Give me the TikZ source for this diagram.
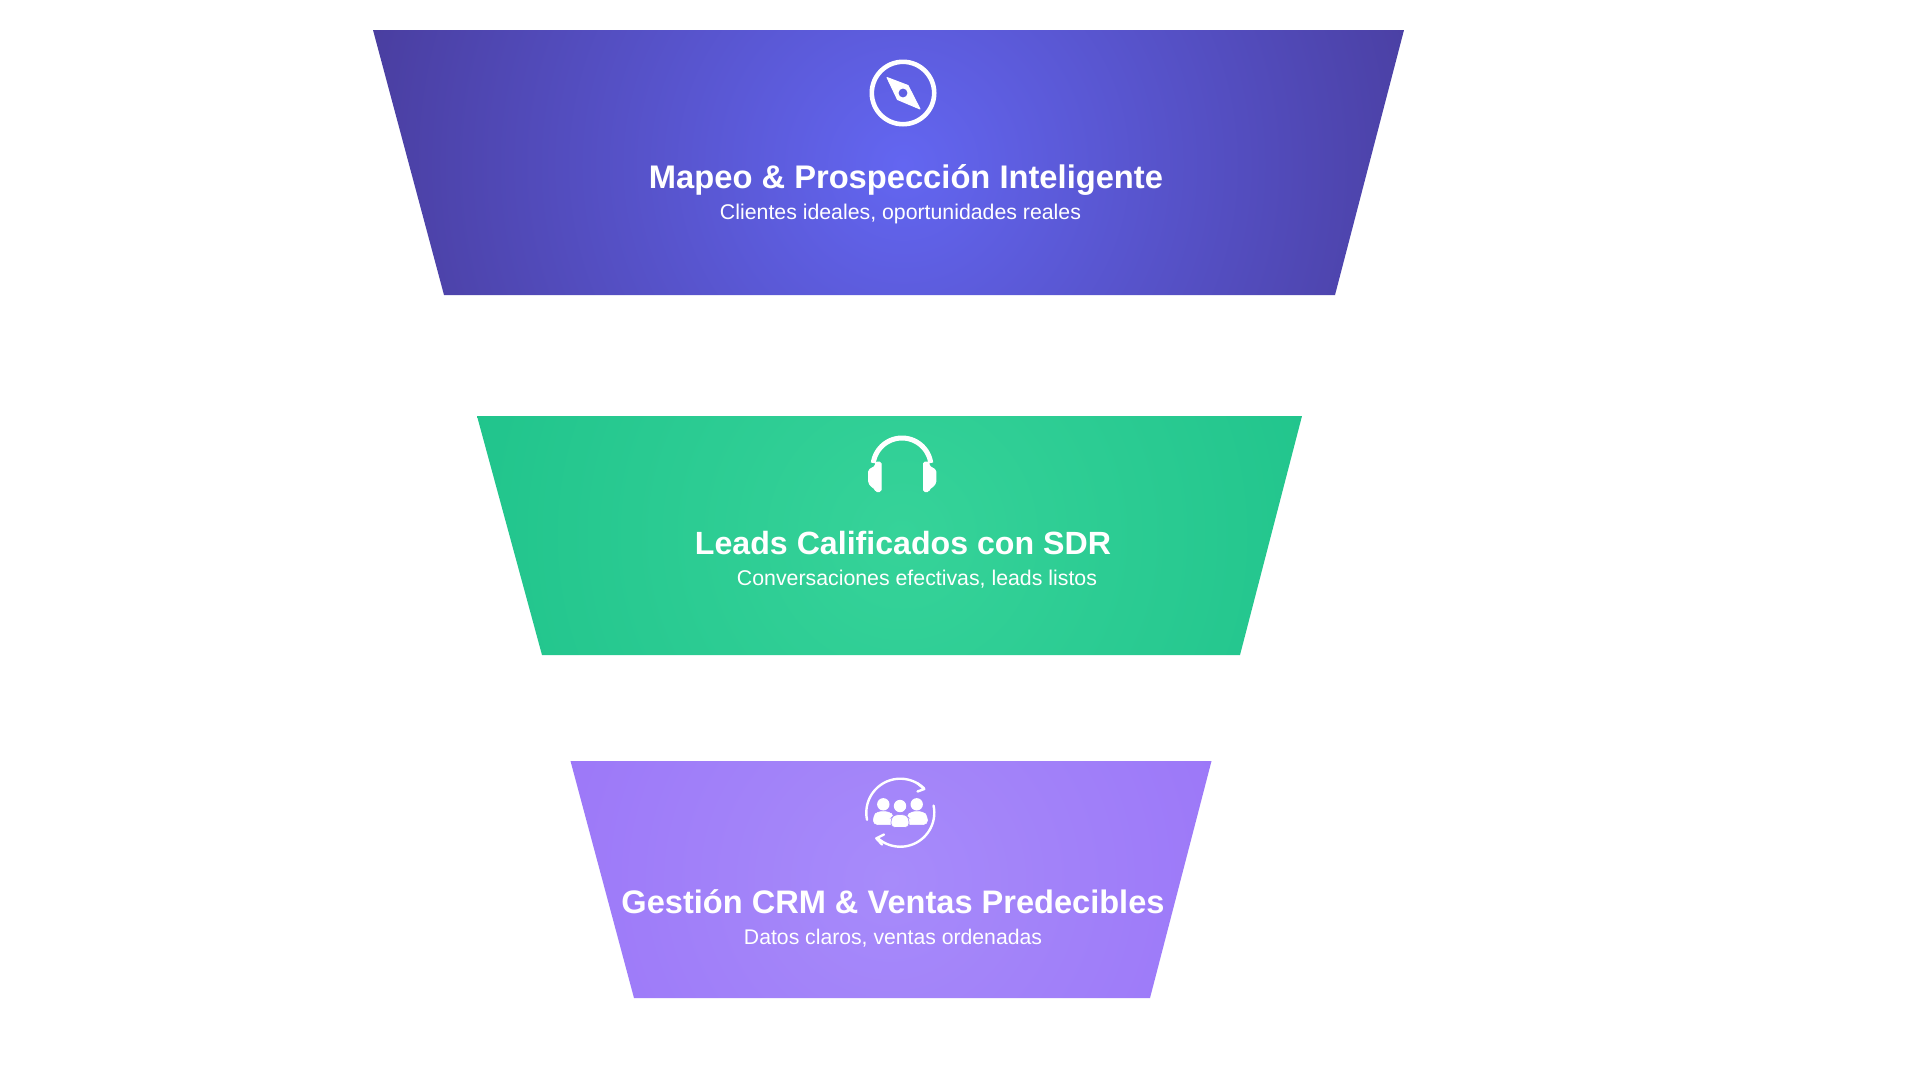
\documentclass[tikz,border=0pt]{standalone}
\usepackage{fontspec}
\usepackage{graphicx}
\setmainfont{Liberation Sans}
\definecolor{cA}{HTML}{6366F1}\definecolor{oA}{HTML}{493D9E}
\definecolor{cB}{HTML}{36D399}\definecolor{oB}{HTML}{1FC38B}
\definecolor{cC}{HTML}{A78BFA}\definecolor{oC}{HTML}{9B76F8}
\pgfdeclareradialshading{radA}{\pgfpoint{0bp}{0bp}}{color(0bp)=(cA); color(25bp)=(oA); color(50bp)=(oA)}
\pgfdeclareradialshading{radB}{\pgfpoint{0bp}{0bp}}{color(0bp)=(cB); color(25bp)=(oB); color(50bp)=(oB)}
\pgfdeclareradialshading{radC}{\pgfpoint{0bp}{0bp}}{color(0bp)=(cC); color(25bp)=(oC); color(50bp)=(oC)}
\newcommand{\fitw}[2]{\resizebox{#1pt}{!}{#2}}
\tikzset{
  titlelabel/.style={anchor=base,inner sep=0pt,text=white,font=\bfseries\fontsize{33}{36}\selectfont},
  sublabel/.style={anchor=base,inner sep=0pt,text=white,font=\fontsize{21}{24}\selectfont},
  iconline/.style={draw=white,line cap=round,line join=round},
  iconfill/.style={fill=white,draw=white,line join=round}
}
\begin{document}
\begin{tikzpicture}[x=1pt,y=-1pt]
\useasboundingbox (0,0) rectangle (1920,1080);
\fill[white] (0,0) rectangle (1920,1080);
% funnel bands
\begin{scope}
\clip (373,30) -- (1404,30) -- (1335,295) -- (444,295) -- cycle;
\shade[shading=radA] (343,-395) rectangle (1463,725);
\end{scope}
\begin{scope}
\clip (477,416) -- (1302,416) -- (1240,655) -- (542,655) -- cycle;
\shade[shading=radB] (422,55) rectangle (1382,1015);
\end{scope}
\begin{scope}
\clip (570.5,761) -- (1211.5,761) -- (1150,998) -- (634,998) -- cycle;
\shade[shading=radC] (510,500) rectangle (1270,1260);
\end{scope}
% texts
\node[titlelabel] (t1) at (906,188) {\fitw{514}{Mapeo \& Prospección Inteligente}};
\node[sublabel] (s1) at (900.5,219) {\fitw{361}{Clientes ideales, oportunidades reales}};
\node[titlelabel] (t2) at (903,554) {\fitw{416}{Leads Calificados con SDR}};
\node[sublabel] (s2) at (917,585) {\fitw{360}{Conversaciones efectivas, leads listos}};
\node[titlelabel] (t3) at (893,913) {\fitw{543}{Gestión CRM \& Ventas Predecibles}};
\node[sublabel] (s3) at (893,944) {\fitw{298}{Datos claros, ventas ordenadas}};
% compass
\draw[iconline,line width=4.6pt] (903,93) circle[radius=31.2];
\path[iconfill,line width=1pt] (887,77.5) -- (908,85.5) -- (920,109) -- (897.5,99.5) -- cycle;
\fill[cA!85!oA] (903,93) circle[radius=4.4];
% headphones
\draw[iconline,line width=5pt,line cap=butt] plot[domain=188:352,samples=40] ({902+29*cos(\x)},{467+29*sin(\x)});
\path[iconfill,line width=1pt,rounded corners=1.5pt] (875.5,462) -- (881,462) -- (881,491.5) -- (875.5,491.5) -- (875.5,489) -- (872,487) -- (868.7,483) -- (868.7,470) -- (875.5,466) -- cycle;
\path[iconfill,line width=1pt,rounded corners=1.5pt] (929,462) -- (923.5,462) -- (923.5,491.5) -- (929,491.5) -- (929,489) -- (932.5,487) -- (935.8,483) -- (935.8,470) -- (929,466) -- cycle;
% team cycle
\draw[iconline,line width=2.4pt] plot[domain=168:314,samples=40] ({900.3+34*cos(\x)},{812.7+34*sin(\x)});
\draw[iconline,line width=2.4pt] plot[domain=-12:131,samples=40] ({900.3+34*cos(\x)},{812.7+34*sin(\x)});
\draw[iconline,line width=2.4pt] (917,783) -- (924.3,789) -- (917.5,791.5);
\draw[iconline,line width=2.4pt] (884,834.5) -- (876.3,838.3) -- (882,844.5);
\fill[white] (883.3,804.3) circle[radius=6.2];
\fill[white] (916.7,804.3) circle[radius=6.2];
\fill[white] (900,806) circle[radius=6.2];
\path[iconfill,line width=0.5pt,rounded corners=4pt] (873.3,824.5) -- (873.3,816) -- (877.5,811.5) -- (889,811.5) -- (894,816) -- (894,824.5) -- cycle;
\path[iconfill,line width=0.5pt,rounded corners=4pt] (906.5,824.5) -- (906.5,816) -- (911.5,811.5) -- (923,811.5) -- (927.5,816) -- (927.5,824.5) -- cycle;
\path[fill=white,draw=cC,line width=0.6pt,rounded corners=4pt] (891,827.5) -- (891,818) -- (894.5,814.5) -- (905.5,814.5) -- (909,818) -- (909,827.5) -- cycle;
\end{tikzpicture}
\end{document}
